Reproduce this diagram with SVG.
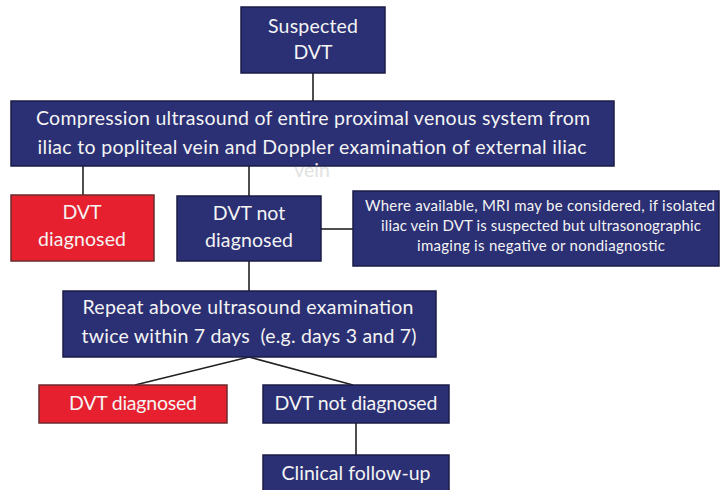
<svg xmlns="http://www.w3.org/2000/svg" width="720" height="490" viewBox="0 0 720 490">
<style>
.navy{fill:#2b2f73;stroke:#1b1d45;stroke-width:1.5}
.red{fill:#e6202f;stroke:#6a2a2e;stroke-width:1.5}
text{font-family:Lato,"Open Sans","Liberation Sans",sans-serif;fill:#f4f4f4;text-anchor:middle}
.t{font-size:19.5px}
.s{font-size:15px}
.conn line{stroke:#222;stroke-width:1.6}
</style>
<rect width="720" height="490" fill="#ffffff"/>
<g class="conn">
<line x1="313" y1="73" x2="313" y2="101"/>
<line x1="83" y1="166" x2="83" y2="195"/>
<line x1="249" y1="166" x2="249" y2="196"/>
<line x1="321" y1="229" x2="353" y2="229"/>
<line x1="249" y1="261" x2="249" y2="291"/>
<line x1="249" y1="357" x2="135" y2="385"/>
<line x1="249" y1="357" x2="353" y2="385"/>
<line x1="356" y1="423" x2="356" y2="455"/>
</g>
<g id="suspected">
<rect class="navy" x="241" y="7" width="144" height="66"/>
<text class="t" x="313" y="33" textLength="90">Suspected</text>
<text class="t" x="313" y="59">DVT</text>
</g>
<g id="compression">
<rect class="navy" x="11" y="101" width="603" height="65"/>
<text class="t" x="313" y="125" textLength="554">Compression ultrasound of entire proximal venous system from</text>
<text class="t" x="312" y="154" textLength="549">iliac to popliteal vein and Doppler examination of external iliac</text>
<text class="t" x="312" y="177" style="fill:#e2e2e2">vein</text>
</g>
<g id="dvt-diagnosed-1">
<rect class="red" x="11" y="195" width="143" height="66"/>
<text class="t" x="82" y="219">DVT</text>
<text class="t" x="82" y="246" textLength="88">diagnosed</text>
</g>
<g id="dvt-not-diagnosed-1">
<rect class="navy" x="177" y="196" width="144" height="65"/>
<text class="t" x="249" y="220">DVT not</text>
<text class="t" x="249" y="247" textLength="88">diagnosed</text>
</g>
<g id="mri">
<rect class="navy" x="353" y="191" width="366" height="75"/>
<text class="s" x="540" y="211" textLength="350">Where available, MRI may be considered, if isolated</text>
<text class="s" x="541" y="231" textLength="320">iliac vein DVT is suspected but ultrasonographic</text>
<text class="s" x="541" y="251" textLength="248">imaging is negative or nondiagnostic</text>
</g>
<g id="repeat">
<rect class="navy" x="63" y="291" width="373" height="66"/>
<text class="t" x="248" y="314" textLength="331">Repeat above ultrasound examination</text>
<text class="t" x="249" y="343" textLength="335" xml:space="preserve">twice within 7 days  (e.g. days 3 and 7)</text>
</g>
<g id="dvt-diagnosed-2">
<rect class="red" x="39" y="385" width="188" height="38"/>
<text class="t" x="133" y="410" textLength="128">DVT diagnosed</text>
</g>
<g id="dvt-not-diagnosed-2">
<rect class="navy" x="263" y="385" width="186" height="38"/>
<text class="t" x="356" y="410" textLength="163">DVT not diagnosed</text>
</g>
<g id="follow-up">
<rect class="navy" x="263" y="455" width="186" height="40"/>
<text class="t" x="356" y="480" textLength="149">Clinical follow-up</text>
</g>
</svg>
